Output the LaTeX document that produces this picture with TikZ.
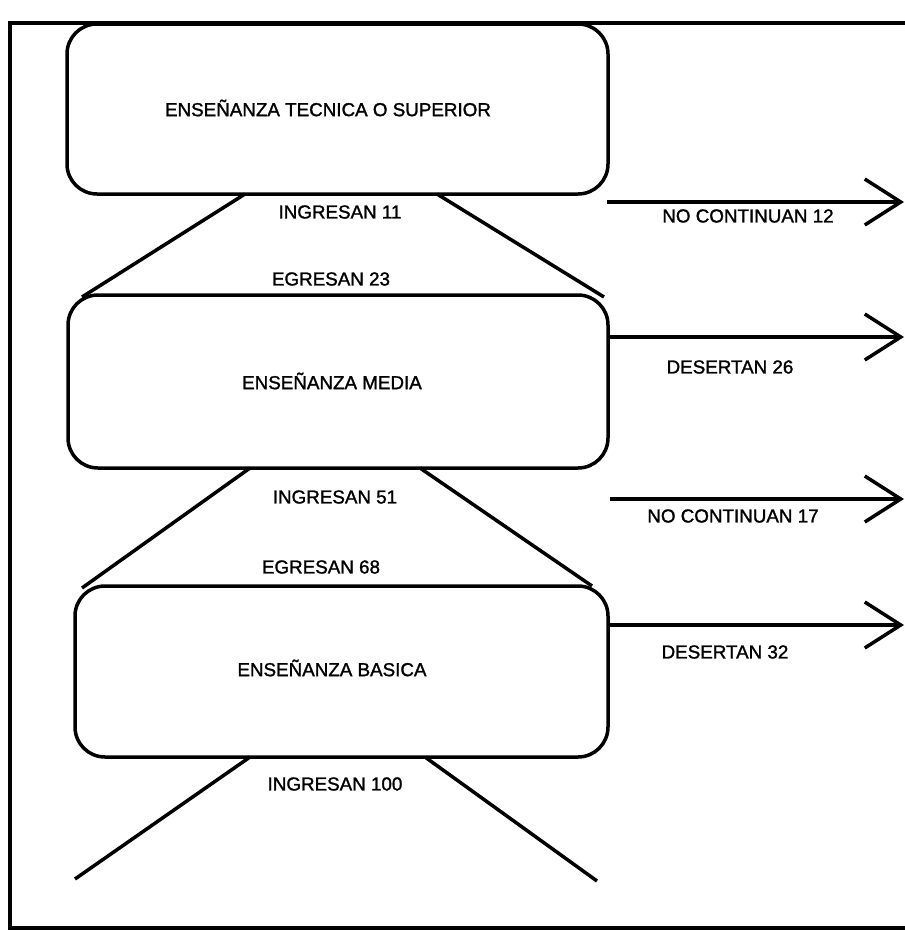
\documentclass[tikz,border=0pt]{standalone}
\usepackage{fontspec}
\setmainfont{Liberation Sans}
\newfontfamily\scanfont[FakeBold=1.4]{Liberation Sans}
\usetikzlibrary{arrows.meta}

\tikzset{
  level/.style={draw, line width=3.5pt, rounded corners=30pt, inner sep=0pt},
  lbl/.style={inner sep=0pt, font=\scanfont\fontsize{18.8}{22}\selectfont},
  funnel/.style={line width=3.5pt},
  outflow/.style={line width=3.5pt, -{Straight Barb[length=36pt,width=46pt,line width=3.5pt]}},
  frame/.style={line width=4.5pt}
}

\begin{document}
\begin{tikzpicture}[x=1pt,y=-1pt]
  \useasboundingbox (0,0) rectangle (905,930);

  % page frame (top, left, bottom edges)
  \draw[frame] (905,23) -- (10,23) -- (10,928) -- (905,928);

  % the three education levels
  \node[level, minimum width=541pt, minimum height=170pt] (sup) at (337.5,109) {};
  \node[level, minimum width=540pt, minimum height=173pt] (med) at (338,381.5) {};
  \node[level, minimum width=533pt, minimum height=171pt] (bas) at (341.5,671.5) {};

  \node[lbl] (tsup) at (328,108) {ENSEÑANZA TECNICA O SUPERIOR};
  \node[lbl] (tmed) at (332,381) {ENSEÑANZA MEDIA};
  \node[lbl] (tbas) at (332,668) {ENSEÑANZA BASICA};

  % funnel between media and superior
  \coordinate (f1l) at (245,194);
  \coordinate (f1r) at (437,194);
  \coordinate (f1bl) at (82,297);
  \coordinate (f1br) at (604,297);
  \draw[funnel] (f1l) -- (f1bl);
  \draw[funnel] (f1r) -- (f1br);

  % funnel between basica and media
  \coordinate (f2l) at (250,468);
  \coordinate (f2r) at (420,468);
  \coordinate (f2bl) at (82,588);
  \coordinate (f2br) at (592,586);
  \draw[funnel] (f2l) -- (f2bl);
  \draw[funnel] (f2r) -- (f2br);

  % entry funnel below basica
  \coordinate (f3l) at (250,757);
  \coordinate (f3r) at (425,757);
  \coordinate (f3bl) at (75,879);
  \coordinate (f3br) at (597,881);
  \draw[funnel] (f3l) -- (f3bl);
  \draw[funnel] (f3r) -- (f3br);

  % outflows to the right
  \coordinate (o1s) at (607,202);
  \coordinate (o1e) at (904,202);
  \coordinate (o2e) at (904,337);
  \coordinate (o3s) at (610,499);
  \coordinate (o3e) at (904,499);
  \coordinate (o4e) at (904,625);
  \draw[outflow] (o1s) -- (o1e);
  \draw[outflow] (med.east |- o2e) -- (o2e);
  \draw[outflow] (o3s) -- (o3e);
  \draw[outflow] (bas.east |- o4e) -- (o4e);

  % flow figures
  \node[lbl] (in11)  at (340,212) {INGRESAN 11};
  \node[lbl] (eg23)  at (331,279) {EGRESAN 23};
  \node[lbl] (in51)  at (335,497) {INGRESAN 51};
  \node[lbl] (eg68)  at (321,567) {EGRESAN 68};
  \node[lbl] (in100) at (335,784) {INGRESAN 100};
  \node[lbl] (nc12)  at (748,216) {NO CONTINUAN 12};
  \node[lbl] (de26)  at (730,367) {DESERTAN 26};
  \node[lbl] (nc17)  at (733,516) {NO CONTINUAN 17};
  \node[lbl] (de32)  at (725,652) {DESERTAN 32};
\end{tikzpicture}
\end{document}
